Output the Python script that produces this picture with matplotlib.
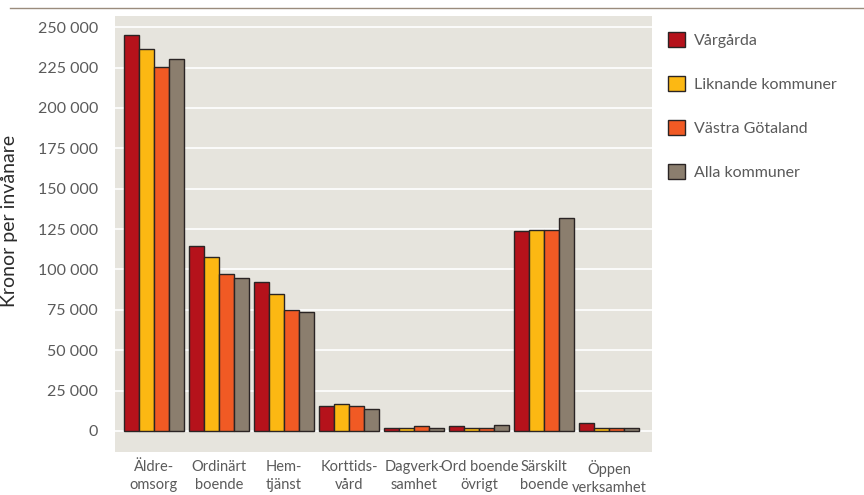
import numpy as np
import matplotlib.pyplot as plt
from matplotlib.lines import Line2D

categories = ["Äldre-\nomsorg", "Ordinärt\nboende", "Hem-\ntjänst", "Korttids-\nvård",
              "Dagverk-\nsamhet", "Ord boende\növrigt", "Särskilt\nboende", "Öppen\nverksamhet"]
series_names = ["Vårgårda", "Liknande kommuner", "Västra Götaland", "Alla kommuner"]
vargarda = [245000, 114800, 92000, 15400, 2000, 2800, 123500, 5000]
liknande = [236200, 107400, 84600, 16700, 1800, 2000, 124700, 2000]
vastra = [225200, 96900, 74700, 15400, 2800, 2000, 124100, 2000]
alla = [230500, 94400, 73500, 13600, 1800, 3800, 132100, 2000]
yticks = list(range(0, 250001, 25000))

colors = ["#b5121b", "#fcb813", "#f15a24", "#8b7e6e"]
edge = "#2a2424"
text_col = "#5a5a5a"

plt.rcParams["font.family"] = ["Lato", "DejaVu Sans"]

fig = plt.figure(figsize=(8.64, 4.95), dpi=100)
ax = fig.add_axes([0.133, 0.087, 0.622, 0.881])
ax.set_facecolor("#e6e4dd")

x = np.arange(len(categories))
w = 0.23
for i, (vals, c) in enumerate(zip([vargarda, liknande, vastra, alla], colors)):
    ax.bar(x + (i - 1.5) * w, vals, width=w, color=c, edgecolor=edge,
           linewidth=1.0, zorder=3, label=series_names[i])

ax.set_xlim(-0.6, 7.66)
ax.set_ylim(-13000, 257000)
ax.set_yticks(yticks)
ax.set_yticklabels([f"{v:,}".replace(",", " ") for v in yticks],
                   fontsize=11.5, color=text_col)
ax.set_xticks(x)
ax.set_xticklabels(categories, fontsize=10.5, color=text_col, linespacing=1.3)
ax.tick_params(length=0)
ax.tick_params(axis="x", pad=6)
ax.tick_params(axis="y", pad=12)
ax.grid(axis="y", color="white", linewidth=1.2, zorder=1)
for s in ax.spines.values():
    s.set_visible(False)
ax.set_ylabel("Kronor per invånare", fontsize=14, color="#2b2b2b")
ax.yaxis.set_label_coords(-0.18, 0.53)

handles = [plt.Rectangle((0, 0), 1, 1, facecolor=c, edgecolor=edge, linewidth=1.0)
           for c in colors]
fig.legend(handles, series_names, loc="upper left", bbox_to_anchor=(0.756, 0.965),
           frameon=False, fontsize=11.5, labelcolor=text_col, handlelength=1.1,
           handleheight=1.1, labelspacing=1.75, handletextpad=0.55)

fig.add_artist(Line2D([0.012, 1.0], [0.984, 0.984], color="#9a8c7d", linewidth=1.0))

fig.savefig("out.png", dpi=100)
